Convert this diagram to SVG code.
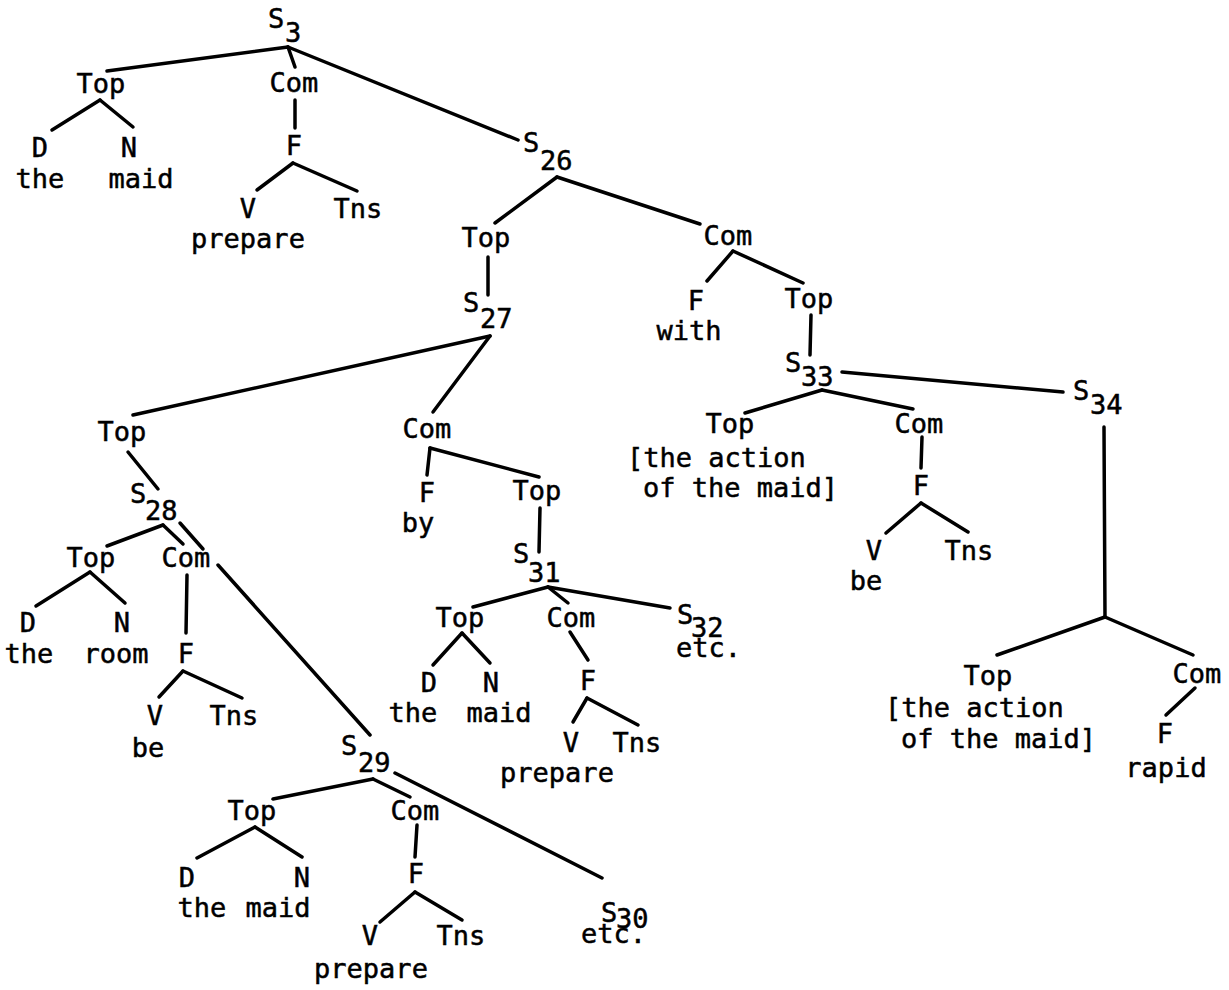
<svg xmlns="http://www.w3.org/2000/svg" width="1229" height="990" viewBox="0 0 1229 990">
<style>
text{font-family:"DejaVu Sans Mono","Liberation Mono",monospace;font-size:27px;letter-spacing:0px;fill:#000;stroke:#000;stroke-width:0.5px}
.m{text-anchor:middle}
#edges line{stroke:#000;stroke-width:3.5;stroke-linecap:round}
</style>
<rect width="1229" height="990" fill="#fff"/>
<g id="edges">
<line x1="288" y1="47" x2="107" y2="71"/>
<line x1="288" y1="47" x2="295" y2="67"/>
<line x1="288" y1="47" x2="518" y2="140"/>
<line x1="100" y1="100" x2="52" y2="130"/>
<line x1="100" y1="100" x2="133" y2="127"/>
<line x1="295" y1="100" x2="295" y2="128"/>
<line x1="293" y1="163" x2="257" y2="190"/>
<line x1="293" y1="163" x2="357" y2="191"/>
<line x1="557" y1="177" x2="495" y2="223"/>
<line x1="557" y1="177" x2="700" y2="224"/>
<line x1="488" y1="257" x2="488" y2="295"/>
<line x1="490" y1="336" x2="133" y2="415"/>
<line x1="490" y1="336" x2="433" y2="412"/>
<line x1="733" y1="251" x2="707" y2="281"/>
<line x1="733" y1="251" x2="803" y2="283"/>
<line x1="811" y1="315" x2="810" y2="355"/>
<line x1="822" y1="390" x2="745" y2="413"/>
<line x1="822" y1="390" x2="913" y2="409"/>
<line x1="842" y1="372" x2="1063" y2="392"/>
<line x1="922" y1="437" x2="921" y2="468"/>
<line x1="921" y1="503" x2="886" y2="533"/>
<line x1="921" y1="503" x2="968" y2="532"/>
<line x1="1104" y1="427" x2="1105" y2="617"/>
<line x1="1105" y1="617" x2="997" y2="655"/>
<line x1="1105" y1="617" x2="1193" y2="655"/>
<line x1="1195" y1="688" x2="1166" y2="715"/>
<line x1="128" y1="452" x2="158" y2="489"/>
<line x1="163" y1="525" x2="107" y2="546"/>
<line x1="163" y1="525" x2="183" y2="544"/>
<line x1="180" y1="523" x2="203" y2="549"/>
<line x1="218" y1="565" x2="370" y2="735"/>
<line x1="90" y1="572" x2="36" y2="606"/>
<line x1="90" y1="572" x2="125" y2="603"/>
<line x1="187" y1="575" x2="186" y2="633"/>
<line x1="183" y1="671" x2="159" y2="697"/>
<line x1="183" y1="671" x2="242" y2="698"/>
<line x1="373" y1="779" x2="273" y2="799"/>
<line x1="373" y1="779" x2="410" y2="797"/>
<line x1="395" y1="773" x2="602" y2="878"/>
<line x1="255" y1="827" x2="197" y2="858"/>
<line x1="255" y1="827" x2="302" y2="857"/>
<line x1="417" y1="825" x2="415" y2="857"/>
<line x1="415" y1="892" x2="380" y2="922"/>
<line x1="415" y1="892" x2="462" y2="920"/>
<line x1="430" y1="448" x2="427" y2="475"/>
<line x1="430" y1="448" x2="539" y2="477"/>
<line x1="540" y1="508" x2="539" y2="552"/>
<line x1="548" y1="587" x2="473" y2="607"/>
<line x1="548" y1="587" x2="568" y2="603"/>
<line x1="548" y1="587" x2="670" y2="608"/>
<line x1="462" y1="633" x2="433" y2="665"/>
<line x1="462" y1="633" x2="490" y2="663"/>
<line x1="570" y1="632" x2="588" y2="660"/>
<line x1="587" y1="698" x2="573" y2="722"/>
<line x1="587" y1="698" x2="638" y2="725"/>
</g>
<g id="S3"><text x="268" y="28">S</text><text x="285" y="42">3</text></g>
<g id="S3-Top"><text class="m" x="101" y="93">Top</text></g>
<g id="S3-D"><text class="m" x="40" y="157">D</text><text class="m" x="40" y="188">the</text></g>
<g id="S3-N"><text class="m" x="129" y="157">N</text><text class="m" x="141" y="188">maid</text></g>
<g id="S3-Com"><text class="m" x="294" y="92">Com</text></g>
<g id="S3-F"><text class="m" x="294" y="155">F</text></g>
<g id="S3-V"><text class="m" x="248" y="218">V</text><text class="m" x="248" y="248">prepare</text></g>
<g id="S3-Tns"><text class="m" x="358" y="218">Tns</text></g>
<g id="S26"><text x="523" y="152">S</text><text x="540" y="170">26</text></g>
<g id="S26-Top"><text class="m" x="486" y="247">Top</text></g>
<g id="S27"><text x="463" y="312">S</text><text x="480" y="328">27</text></g>
<g id="S26-Com"><text class="m" x="728" y="245">Com</text></g>
<g id="S26-F"><text class="m" x="696" y="310">F</text><text class="m" x="689" y="340">with</text></g>
<g id="S26-Top2"><text class="m" x="809" y="308">Top</text></g>
<g id="S33"><text x="785" y="372">S</text><text x="801" y="386">33</text></g>
<g id="S33-Top"><text class="m" x="730" y="433">Top</text><text x="627" y="467">[the action</text><text x="643" y="497">of the maid]</text></g>
<g id="S33-Com"><text class="m" x="919" y="433">Com</text></g>
<g id="S33-F"><text class="m" x="921" y="495">F</text></g>
<g id="S33-V"><text class="m" x="874" y="560">V</text><text class="m" x="866" y="590">be</text></g>
<g id="S33-Tns"><text class="m" x="969" y="560">Tns</text></g>
<g id="S34"><text x="1073" y="400">S</text><text x="1090" y="414">34</text></g>
<g id="S34-Top"><text class="m" x="988" y="685">Top</text><text x="885" y="717">[the action</text><text x="901" y="748">of the maid]</text></g>
<g id="S34-Com"><text class="m" x="1197" y="683">Com</text></g>
<g id="S34-F"><text class="m" x="1165" y="743">F</text><text class="m" x="1166" y="777">rapid</text></g>
<g id="S27-Top"><text class="m" x="122" y="441">Top</text></g>
<g id="S28"><text x="130" y="503">S</text><text x="145" y="520">28</text></g>
<g id="S28-Top"><text class="m" x="91" y="567">Top</text></g>
<g id="S28-D"><text class="m" x="28" y="632">D</text><text class="m" x="29" y="663">the</text></g>
<g id="S28-N"><text class="m" x="122" y="632">N</text><text class="m" x="116" y="663">room</text></g>
<g id="S28-Com"><text class="m" x="186" y="567">Com</text></g>
<g id="S28-F"><text class="m" x="186" y="663">F</text></g>
<g id="S28-V"><text class="m" x="155" y="725">V</text><text class="m" x="148" y="757">be</text></g>
<g id="S28-Tns"><text class="m" x="234" y="725">Tns</text></g>
<g id="S29"><text x="341" y="755">S</text><text x="358" y="772">29</text></g>
<g id="S29-Top"><text class="m" x="252" y="820">Top</text></g>
<g id="S29-D"><text class="m" x="187" y="887">D</text><text class="m" x="202" y="917">the</text></g>
<g id="S29-N"><text class="m" x="302" y="887">N</text><text class="m" x="278" y="917">maid</text></g>
<g id="S29-Com"><text class="m" x="415" y="820">Com</text></g>
<g id="S29-F"><text class="m" x="416" y="883">F</text></g>
<g id="S29-V"><text class="m" x="370" y="945">V</text><text class="m" x="371" y="978">prepare</text></g>
<g id="S29-Tns"><text class="m" x="461" y="945">Tns</text></g>
<g id="S30"><text x="601" y="922">S</text><text x="616" y="928">30</text><text x="581" y="943">etc.</text></g>
<g id="S27-Com"><text class="m" x="427" y="438">Com</text></g>
<g id="S27-F"><text class="m" x="427" y="502">F</text><text class="m" x="418" y="532">by</text></g>
<g id="S27-Top2"><text class="m" x="537" y="500">Top</text></g>
<g id="S31"><text x="513" y="563">S</text><text x="528" y="582">31</text></g>
<g id="S31-Top"><text class="m" x="460" y="627">Top</text></g>
<g id="S31-D"><text class="m" x="429" y="692">D</text><text class="m" x="413" y="722">the</text></g>
<g id="S31-N"><text class="m" x="491" y="692">N</text><text class="m" x="499" y="722">maid</text></g>
<g id="S31-Com"><text class="m" x="571" y="627">Com</text></g>
<g id="S31-F"><text class="m" x="588" y="690">F</text></g>
<g id="S31-V"><text class="m" x="571" y="752">V</text><text class="m" x="557" y="782">prepare</text></g>
<g id="S31-Tns"><text class="m" x="637" y="752">Tns</text></g>
<g id="S32"><text x="677" y="624">S</text><text x="691" y="637">32</text><text x="676" y="657">etc.</text></g>
</svg>
